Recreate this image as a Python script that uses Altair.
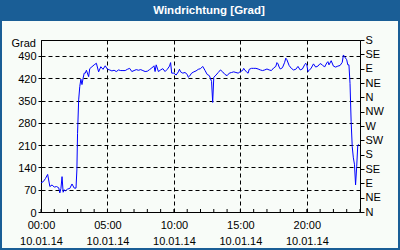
import altair as alt
import pandas as pd

# ---- data -------------------------------------------------------------
times = [
    "00:00", "00:10", "00:20", "00:30", "00:40", "00:50", "01:00", "01:10", "01:20", "01:25",
    "01:30", "01:35", "01:40", "01:45", "01:50", "02:00", "02:10", "02:20", "02:30", "02:38",
    "02:42", "02:45", "02:50", "02:55", "03:00", "03:05", "03:10", "03:15", "03:20", "03:25",
    "03:35", "03:40", "03:50", "04:00", "04:10", "04:20", "04:30", "04:40", "04:50", "05:00",
    "05:10", "05:20", "05:30", "05:40", "05:50", "06:00", "06:10", "06:20", "06:30", "06:40",
    "06:50", "07:00", "07:10", "07:20", "07:30", "07:40", "07:50", "08:00", "08:10", "08:20",
    "08:30", "08:35", "08:40", "08:50", "09:00", "09:10", "09:20", "09:30", "09:40", "09:45",
    "09:50", "10:00", "10:10", "10:20", "10:25", "10:30", "10:40", "10:50", "11:00", "11:05",
    "11:10", "11:20", "11:30", "11:40", "11:50", "12:00", "12:10", "12:20", "12:30", "12:40",
    "12:50", "12:55", "13:00", "13:10", "13:20", "13:30", "13:40", "13:50", "14:00", "14:10",
    "14:20", "14:30", "14:40", "14:50", "15:00", "15:10", "15:15", "15:20", "15:30", "15:35",
    "15:40", "15:50", "16:00", "16:10", "16:20", "16:30", "16:40", "16:50", "17:00", "17:10",
    "17:20", "17:30", "17:40", "17:45", "17:50", "17:55", "18:00", "18:10", "18:20", "18:25",
    "18:30", "18:40", "18:50", "19:00", "19:10", "19:20", "19:30", "19:40", "19:50", "19:55",
    "20:00", "20:05", "20:10", "20:20", "20:30", "20:40", "20:50", "21:00", "21:10", "21:20",
    "21:30", "21:35", "21:40", "21:50", "22:00", "22:10", "22:20", "22:30", "22:40", "22:45",
    "22:50", "23:00", "23:05", "23:10", "23:15", "23:20", "23:25", "23:30", "23:35", "23:40",
    "23:45", "23:50", "23:55",
]
values = [
    92, 95, 105, 118, 80, 85, 78, 80, 76, 60,
    74, 111, 62, 70, 66, 72, 74, 88, 75, 75,
    132, 247, 352, 394, 417, 400, 420, 436, 436, 445,
    425, 450, 456, 462, 467, 440, 456, 448, 459, 448,
    446, 443, 445, 441, 446, 444, 444, 444, 448, 451,
    441, 444, 447, 445, 447, 444, 441, 442, 447, 452,
    459, 441, 462, 441, 446, 450, 441, 448, 458, 469,
    436, 436, 430, 440, 448, 440, 436, 438, 432, 423,
    426, 436, 440, 443, 448, 450, 457, 445, 432, 428,
    410, 344, 423, 430, 438, 446, 440, 432, 428, 436,
    438, 440, 438, 436, 441, 444, 451, 446, 438, 436,
    448, 451, 451, 451, 449, 446, 444, 446, 449, 446,
    444, 452, 457, 469, 465, 455, 449, 453, 470, 483,
    478, 460, 451, 446, 448, 457, 446, 449, 462, 467,
    462, 441, 444, 452, 465, 455, 458, 466, 462, 455,
    468, 472, 462, 475, 458, 455, 458, 460, 470, 493,
    488, 478, 462, 462, 404, 284, 205, 170, 150, 85,
    142, 210, 212,
]
day = "2014-01-10"
hour_ticks = list(range(25))
major_hours = [0, 5, 10, 15, 20]
grad_ticks = [0, 70, 140, 210, 280, 350, 420, 490]
compass_ticks = list(range(0, 541, 45))
compass_labels = ["N", "NE", "E", "SE", "S", "SW", "W", "NW", "N", "NE", "E", "SE", "S"]
title_text = "Windrichtung [Grad]"
unit_text = "Grad"
date_label = "10.01.14"

# ---- styling ----------------------------------------------------------
FONT = "Liberation Sans"
BLUE = "#1a5e96"
BG = "#f8fcf8"
W, H = 319, 172
PAD_L, PAD_T = 41, 40

df = pd.DataFrame({"t": [f"{day}T{t}" for t in times], "v": values})
ticks_df = pd.DataFrame({
    "t": [f"{day}T{h:02d}:00" if h < 24 else "2014-01-11T00:00" for h in hour_ticks]
})
one = pd.DataFrame({"a": [0]})

x_scale = alt.Scale(domain=[alt.DateTime(year=2014, month=1, date=10, hours=0),
                            alt.DateTime(year=2014, month=1, date=11, hours=0)])
y_scale = alt.Scale(domain=[0, 540], nice=False, zero=True)

x_axis = alt.Axis(
    values=[alt.DateTime(year=2014, month=1, date=10, hours=h) for h in major_hours],
    labelExpr=f"[timeFormat(datum.value, '%H:%M'), '{date_label}']",
    grid=True, gridDash=[4, 3], gridColor="black", gridOpacity=1, gridWidth=1,
    ticks=False, tickSize=0, labelPadding=7, labelLineHeight=16,
    domainColor="black", labelColor="black", labelFont=FONT, labelFontSize=11,
    title=None, labelFlush=False, labelOverlap=False,
)
y_axis_left = alt.Axis(
    values=grad_ticks, grid=True, gridDash=[4, 3], gridColor="black", gridOpacity=1,
    tickSize=3, tickColor="black", domainColor="black", labelColor="black",
    labelFont=FONT, labelFontSize=11, labelPadding=2, labelOffset=1,
    title=None, labelOverlap=False,
)
compass_expr = "[" + ",".join(f"'{c}'" for c in compass_labels) + "][round(datum.value/45)]"
y_axis_right = alt.Axis(
    orient="right", values=compass_ticks, labelExpr=compass_expr, grid=False,
    tickSize=4, tickColor="black", domainColor="black", labelColor="black",
    labelFont=FONT, labelFontSize=11, labelPadding=1, title=None, labelOverlap=False,
)

line = alt.Chart(df).mark_line(color="#0000ff", strokeWidth=1).encode(
    x=alt.X("t:T", scale=x_scale, axis=x_axis),
    y=alt.Y("v:Q", scale=y_scale, axis=y_axis_left),
)
right = alt.Chart(df).mark_line(strokeOpacity=0).encode(
    x=alt.X("t:T", scale=x_scale),
    y=alt.Y("v:Q", scale=y_scale, axis=y_axis_right),
)
hour_rules = alt.Chart(ticks_df).mark_rule(color="black", strokeWidth=1).encode(
    x=alt.X("t:T", scale=x_scale),
    y=alt.value(H - 3), y2=alt.value(H),
)
title_bar = alt.Chart(one).mark_rect(color=BLUE).encode(
    x=alt.value(-PAD_L), x2=alt.value(400 - PAD_L),
    y=alt.value(-PAD_T), y2=alt.value(21 - PAD_T),
)
frame = alt.Chart(one).mark_rect(fillOpacity=0, stroke=BLUE, strokeWidth=2).encode(
    x=alt.value(1 - PAD_L), x2=alt.value(399 - PAD_L),
    y=alt.value(-PAD_T), y2=alt.value(249 - PAD_T),
)
title = alt.Chart(one).mark_text(
    text=title_text, color="white", font=FONT, fontSize=11.5, fontWeight="bold",
    align="center", baseline="middle",
).encode(x=alt.value(209 - PAD_L), y=alt.value(11 - PAD_T))
unit = alt.Chart(one).mark_text(
    text=unit_text, color="black", font=FONT, fontSize=11,
    align="right", baseline="middle",
).encode(x=alt.value(36 - PAD_L), y=alt.value(44 - PAD_T))

chart = alt.layer(line, right, hour_rules, title_bar, frame, title, unit).resolve_scale(
    y="independent"
).properties(
    width=W, height=H,
    autosize=alt.AutoSizeParams(type="none"),
    padding={"left": PAD_L, "top": PAD_T, "right": 400 - PAD_L - W, "bottom": 250 - PAD_T - H},
    background=BG,
).configure_view(
    stroke="black", strokeWidth=1, fill=BG,
)

chart.save("out.html", embed_options={"renderer": "svg", "actions": False})
